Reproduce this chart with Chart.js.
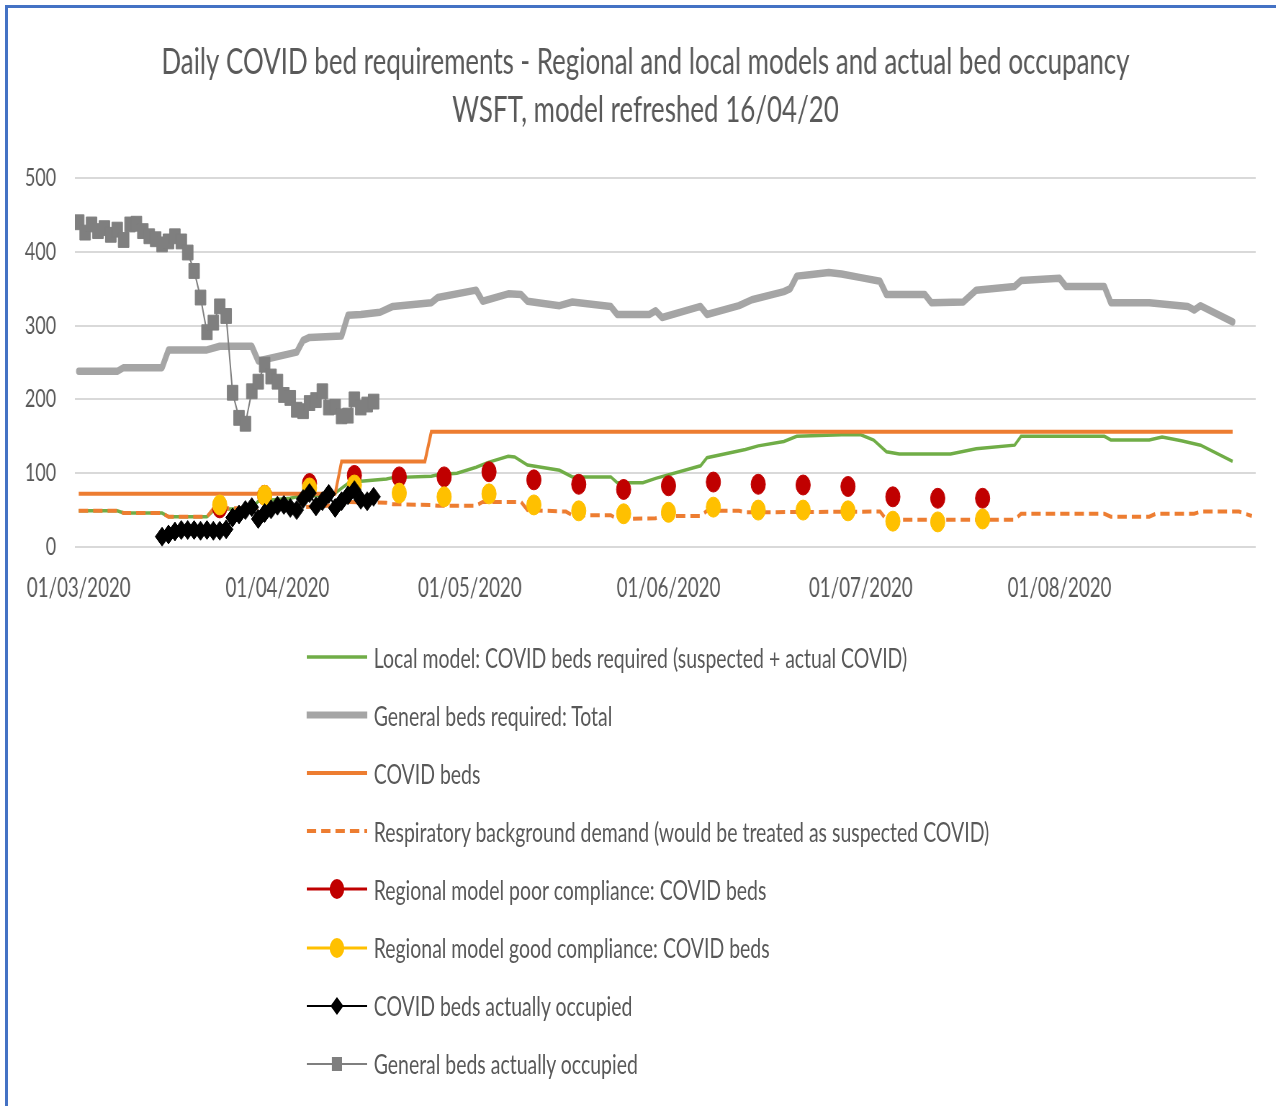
<!DOCTYPE html>
<html>
<head>
<meta charset="utf-8">
<script src="https://cdn.jsdelivr.net/npm/chart.js@4.4.0/dist/chart.umd.min.js"></script>
<style>
  body { margin:0; background:#fff; overflow:hidden; font-family: Lato, "Open Sans", sans-serif; }
  #frame { position:absolute; left:5px; top:5px; width:1290px; height:1120px; border-top:3px solid #4472c4; border-left:3px solid #4472c4; }
  /* the reference is squeezed sideways, so draw wide and squash it */
  #squash { position:absolute; left:0; top:0; width:1793px; height:1106px; transform:scaleX(0.72); transform-origin:0 0; }
  #chart { position:absolute; left:0; top:0; }
  .item { position:absolute; left:426px; height:30px; display:flex; align-items:center; color:#595959; font-size:27px; white-space:nowrap; }
  .item svg { margin-right:9px; flex:none; }
</style>
</head>
<body>
<div id="frame"></div>
<div id="squash">
  <canvas id="chart" width="1793" height="620" style="width:1793px;height:620px"></canvas>
  <div id="legend"></div>
</div>
<script>
// x values are days since 01/03/2020
var xTickDays = [0, 31, 61, 92, 122, 153];
var xTickLabels = ['01/03/2020', '01/04/2020', '01/05/2020', '01/06/2020', '01/07/2020', '01/08/2020'];

// Local model: COVID beds required
var localDays = [0,6,7,13,14,20,21,22,27,28,33,34,38,40,42,44,48,49,55,56,59,62,64,67,68,70,75,77,83,84,88,90,97,98,104,106,110,112,119,122,124,126,128,136,140,146,147,160,161,167,169,172,175,180];
var localBeds = [49,49,46,46,41,41,49,51,52,62,66,68,70,73,86,89,92,94,96,98,100,108,115,123,122,111,104,95,95,87,87,93,110,121,132,137,143,150,152,152,145,129,126,126,133,138,150,150,145,145,149,144,138,116];

// General beds required: Total
var genReqDays = [0,6,7,13,14,20,22,27,28,33,34,35,36,41,42,44,47,49,55,56,62,63,67,69,70,75,77,83,84,89,90,91,97,98,103,105,110,111,112,114,117,119,122,125,126,132,133,138,140,146,147,153,154,160,161,167,173,174,175,180];
var genReqBeds = [238,238,243,243,267,267,272,272,252,262,264,280,284,286,314,315,318,326,331,338,348,333,343,342,333,327,332,326,315,315,320,311,326,315,327,335,346,350,367,369,372,370,365,360,342,342,331,332,348,353,361,364,353,353,331,331,326,321,327,305];

// COVID beds
var covidBedDays = [0,40,41,54,55,180];
var covidBeds = [72,72,116,116,156,156];

// Respiratory background demand
var respDays = [0,6,7,13,14,20,21,28,35,41,42,48,49,55,56,62,63,69,70,76,77,83,84,90,91,97,98,103,104,125,126,146,147,160,161,167,168,174,175,181,183];
var respBeds = [49,49,46,46,41,41,52,53,54,57,61,60,58,57,56,56,61,61,50,48,43,43,38,39,42,42,49,49,47,48,37,37,45,45,41,41,45,45,48,48,42];

// Regional model, weekly points
var regionalDays = [22,29,36,43,50,57,64,71,78,85,92,99,106,113,120,127,134,141];
var poorCompliance = [53,70,86,97,95,95,102,91,85,78,83,88,85,84,82,68,66,66];
var goodCompliance = [57,70,80,84,73,68,72,57,49,45,47,54,50,50,49,35,34,38];

// COVID beds actually occupied, daily from day 13
var covidOccStart = 13;
var covidOcc = [14,17,21,23,23,23,22,23,22,22,24,40,44,50,54,38,46,51,56,57,53,50,65,73,55,62,72,53,62,70,77,64,62,68];

// General beds actually occupied, daily from day 0
var genOccStart = 0;
var genOcc = [440,426,437,428,432,423,430,416,437,438,428,421,417,410,414,421,414,399,374,338,291,304,326,313,209,175,167,211,224,247,231,224,206,202,186,184,195,199,211,189,190,177,178,200,189,193,197];

function pairs(days, vals) {
	return days.map(function (d, i) { return { x: d, y: vals[i] }; });
}
function daily(start, vals) {
	return vals.map(function (v, i) { return { x: start + i, y: v }; });
}

Chart.defaults.font.family = 'Lato, "Open Sans", sans-serif';
Chart.defaults.color = '#595959';

// dataset 0 is drawn on top
var datasets = [
	{ label: 'General beds actually occupied', data: daily(genOccStart, genOcc),
		borderColor: '#7f7f7f', backgroundColor: '#7f7f7f', borderWidth: 2,
		pointStyle: 'rect', pointRadius: 10.5, pointBorderWidth: 1 },
	{ label: 'COVID beds actually occupied', data: daily(covidOccStart, covidOcc),
		borderColor: '#000000', backgroundColor: '#000000', borderWidth: 2,
		pointStyle: 'rectRot', pointRadius: 9.5, pointBorderWidth: 1 },
	{ label: 'Regional model good compliance: COVID beds', data: pairs(regionalDays, goodCompliance),
		borderColor: '#ffc000', backgroundColor: '#ffc000', showLine: false,
		pointStyle: 'circle', pointRadius: 10, pointBorderWidth: 1 },
	{ label: 'Regional model poor compliance: COVID beds', data: pairs(regionalDays, poorCompliance),
		borderColor: '#c00000', backgroundColor: '#c00000', showLine: false,
		pointStyle: 'circle', pointRadius: 10, pointBorderWidth: 1 },
	{ label: 'Respiratory background demand (would be treated as suspected COVID)', data: pairs(respDays, respBeds),
		borderColor: '#ed7d31', borderWidth: 4, borderDash: [13, 7], pointRadius: 0 },
	{ label: 'COVID beds', data: pairs(covidBedDays, covidBeds),
		borderColor: '#ed7d31', borderWidth: 4, pointRadius: 0 },
	{ label: 'General beds required: Total', data: pairs(genReqDays, genReqBeds),
		borderColor: '#a5a5a5', borderWidth: 7.5, pointRadius: 0, borderJoinStyle: 'round', borderCapStyle: 'round' },
	{ label: 'Local model: COVID beds required (suspected + actual COVID)', data: pairs(localDays, localBeds),
		borderColor: '#70ad47', borderWidth: 3.5, pointRadius: 0 }
];

var chart = new Chart(document.getElementById('chart'), {
	type: 'line',
	data: { datasets: datasets },
	options: {
		responsive: false,
		animation: false,
		layout: { padding: { left: 0, right: 0, top: 0, bottom: 0 } },
		plugins: {
			legend: { display: false },
			tooltip: { enabled: false },
			title: {
				display: true,
				text: ['Daily COVID bed requirements - Regional and local models and actual bed occupancy',
					'WSFT, model refreshed 16/04/20'],
				color: '#595959',
				font: { size: 36, weight: 'normal', lineHeight: 1.333 },
				padding: { top: 38, bottom: 44 }
			}
		},
		scales: {
			x: {
				type: 'linear', min: -0.6, max: 183.6,
				grid: { display: false, drawTicks: false },
				border: { display: false },
				afterBuildTicks: function (scale) {
					scale.ticks = xTickDays.map(function (d) { return { value: d }; });
				},
				afterFit: function (scale) { scale.height = 73; },
				ticks: {
					padding: 26, maxRotation: 0, autoSkip: false,
					font: { size: 26 }, color: '#595959',
					callback: function (v) { return xTickLabels[xTickDays.indexOf(v)]; }
				}
			},
			y: {
				min: 0, max: 500,
				grid: { color: '#d9d9d9', lineWidth: 2, drawTicks: false },
				border: { display: false },
				afterFit: function (scale) { scale.width = 104; },
				ticks: { stepSize: 100, padding: 26, font: { size: 25 }, color: '#595959' }
			},
			// empty right-hand space, keeps the plot edge where the reference has it
			yPad: {
				position: 'right', min: 0, max: 500,
				grid: { display: false, drawTicks: false },
				border: { display: false },
				ticks: { display: false },
				afterFit: function (scale) { scale.width = 49; }
			}
		}
	}
});

// legend in the order of the reference
var legendOrder = [7, 6, 5, 4, 3, 2, 1, 0];
var legendTop = 657, legendStep = 58.1;
var legendBox = document.getElementById('legend');
legendOrder.forEach(function (idx, row) {
	var ds = datasets[idx];
	var svg = '<svg width="84" height="30" viewBox="0 0 84 30">';
	var lw = ds.showLine === false ? 3 : Math.min(ds.borderWidth, 7);
	svg += '<line x1="0" y1="15" x2="84" y2="15" stroke="' + ds.borderColor + '" stroke-width="' + lw + '"' +
		(ds.borderDash ? ' stroke-dasharray="' + ds.borderDash.join(',') + '"' : '') +
		(idx == 6 ? ' stroke-linecap="round"' : '') + '/>';
	if (ds.pointStyle == 'circle') {
		svg += '<circle cx="42" cy="15" r="10" fill="' + ds.backgroundColor + '"/>';
	} else if (ds.pointStyle == 'rectRot') {
		svg += '<polygon points="42,6 51,15 42,24 33,15" fill="' + ds.backgroundColor + '"/>';
	} else if (ds.pointStyle == 'rect') {
		svg += '<rect x="35" y="8" width="14" height="14" fill="' + ds.backgroundColor + '"/>';
	}
	svg += '</svg>';
	var div = document.createElement('div');
	div.className = 'item';
	div.style.top = (legendTop + row * legendStep - 15) + 'px';
	div.innerHTML = svg + '<span>' + ds.label + '</span>';
	legendBox.appendChild(div);
});
</script>
</body>
</html>
